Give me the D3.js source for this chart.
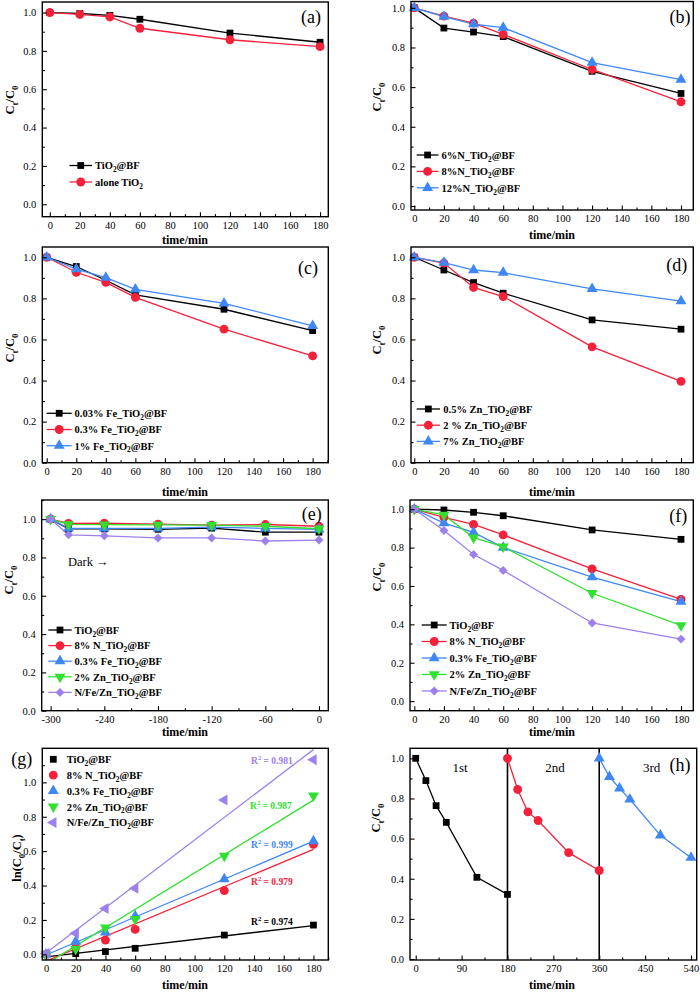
<!DOCTYPE html>
<html><head><meta charset="utf-8">
<script src="https://cdn.jsdelivr.net/npm/d3@7"></script>
<style>body{margin:0;background:#fff} svg{display:block}</style>
</head><body><svg id="c" width="700" height="992"></svg>
<script>
// ---------------- DATA ----------------
const timeStd = [0, 20, 40, 60, 120, 180];
const timeDark = [-300, -280, -240, -180, -120, -60, 0];
const xTicksStd = [0, 20, 40, 60, 80, 100, 120, 140, 160, 180];
const xTicksDark = [-300, -240, -180, -120, -60, 0];
const xTicksCycle = [0, 90, 180, 270, 360, 450, 540];
const yTicks = [0, 0.2, 0.4, 0.6, 0.8, 1.0];

// (a)
const a_TiO2BF = [1.0, 0.995, 0.985, 0.965, 0.893, 0.845];
const a_aloneTiO2 = [1.0, 0.990, 0.977, 0.918, 0.858, 0.822];
// (b)
const b_N6 = [1.0, 0.898, 0.878, 0.855, 0.680, 0.568];
const b_N8 = [1.0, 0.958, 0.923, 0.866, 0.689, 0.526];
const b_N12 = [1.0, 0.956, 0.918, 0.900, 0.724, 0.638];
// (c)
const c_Fe003 = [1.0, 0.955, 0.888, 0.817, 0.747, 0.643];
const c_Fe03 = [1.0, 0.927, 0.878, 0.805, 0.650, 0.520];
const c_Fe1 = [1.0, 0.942, 0.901, 0.844, 0.776, 0.666];
// (d)
const d_Zn05 = [1.0, 0.938, 0.877, 0.825, 0.695, 0.650];
const d_Zn2 = [1.0, 0.972, 0.853, 0.809, 0.564, 0.396];
const d_Zn7 = [1.0, 0.974, 0.938, 0.925, 0.846, 0.787];
// (e) dark adsorption
const e_TiO2BF = [1.0, 0.949, 0.949, 0.947, 0.953, 0.932, 0.932];
const e_N8 = [1.0, 0.978, 0.979, 0.974, 0.969, 0.972, 0.963];
const e_Fe03 = [1.0, 0.952, 0.952, 0.952, 0.958, 0.952, 0.947];
const e_Zn2 = [1.0, 0.973, 0.971, 0.970, 0.969, 0.963, 0.950];
const e_NFeZn = [1.0, 0.918, 0.913, 0.902, 0.902, 0.886, 0.891];
// (f)
const f_TiO2BF = [1.0, 0.996, 0.984, 0.966, 0.892, 0.843];
const f_N8 = [1.0, 0.957, 0.921, 0.866, 0.689, 0.530];
const f_Fe03 = [1.0, 0.928, 0.879, 0.800, 0.646, 0.518];
const f_Zn2 = [1.0, 0.970, 0.852, 0.805, 0.562, 0.395];
const f_NFeZn = [1.0, 0.889, 0.764, 0.681, 0.407, 0.323];
// (g) ln(C0/Ct)
const g_TiO2BF = [0.0, 0.004, 0.016, 0.035, 0.112, 0.170];
const g_N8 = [0.0, 0.040, 0.083, 0.145, 0.371, 0.640];
const g_Fe03 = [0.0, 0.074, 0.128, 0.222, 0.438, 0.659];
const g_Zn2 = [0.0, 0.031, 0.155, 0.205, 0.572, 0.922];
const g_NFeZn = [0.005, 0.122, 0.267, 0.384, 0.897, 1.132];
const g_R2 = ["0.974", "0.979", "0.999", "0.987", "0.981"];
// (h) recycling
const h_time1 = [0, 20, 40, 60, 120, 180];
const h_run1 = [1.0, 0.889, 0.764, 0.681, 0.407, 0.322];
const h_time2 = [180, 200, 220, 240, 300, 360];
const h_run2 = [1.0, 0.845, 0.733, 0.690, 0.530, 0.441];
const h_time3 = [360, 380, 400, 420, 480, 540];
const h_run3 = [1.0, 0.908, 0.850, 0.796, 0.616, 0.505];
const h_dividers = [180, 360];
const h_runLabels = ["1st", "2nd", "3rd"];

const lbl = {
  tio2bf: "TiO_{2}@BF", alone: "alone TiO_{2}",
  n6: "6%N_TiO_{2}@BF", n8b: "8%N_TiO_{2}@BF", n12: "12%N_TiO_{2}@BF",
  fe003: "0.03% Fe_TiO_{2}@BF", fe03: "0.3% Fe_TiO_{2}@BF", fe1: "1% Fe_TiO_{2}@BF",
  zn05: "0.5% Zn_TiO_{2}@BF", zn2d: "2 % Zn_TiO_{2}@BF", zn7: "7% Zn_TiO_{2}@BF",
  n8: "8% N_TiO_{2}@BF", zn2: "2% Zn_TiO_{2}@BF", nfezn: "N/Fe/Zn_TiO_{2}@BF"
};

// ---------------- STYLE ----------------
const FONT = '"Liberation Serif","Times New Roman",serif';
const COL = {k: '#000000', r: '#f5213b', b: '#3f87f5', g: '#2fe02f', p: '#9c80ec'};
const svg = d3.select('#c').attr('font-family', FONT);

function rich(t, str, fs) {
  const parts = str.split(/(_\{[^}]*\}|\^\{[^}]*\})/).filter(s => s.length);
  let shift = 0;
  parts.forEach(p => {
    const ts = t.append('tspan');
    if (p.startsWith('_{')) { const d = fs * 0.28; ts.attr('dy', d - shift).attr('font-size', fs * 0.7).text(p.slice(2, -1)); shift = d; }
    else if (p.startsWith('^{')) { const d = -fs * 0.4; ts.attr('dy', d - shift).attr('font-size', fs * 0.7).text(p.slice(2, -1)); shift = d; }
    else { ts.attr('dy', -shift).text(p); shift = 0; }
  });
}

const SYM = {square: d3.symbolSquare, circle: d3.symbolCircle, up: d3.symbolTriangle, down: d3.symbolTriangle, left: d3.symbolTriangle, diamond: d3.symbolSquare};
const ROT = {square: 0, circle: 0, up: 0, down: 180, left: -90, diamond: 45};
const SIZE = {square: 46, circle: 62, up: 52, down: 52, left: 52, diamond: 40};
function marker(g, cx, cy, sym, color) {
  g.append('path').attr('d', d3.symbol().type(SYM[sym]).size(SIZE[sym])())
    .attr('transform', `translate(${cx},${cy}) rotate(${ROT[sym]})`)
    .attr('fill', color);
}

function fit(xs, ys) {
  const mx = d3.mean(xs), my = d3.mean(ys);
  let sxy = 0, sxx = 0;
  xs.forEach((v, i) => { sxy += (v - mx) * (ys[i] - my); sxx += (v - mx) * (v - mx); });
  const k = sxy / sxx;
  return {k, b: my - k * mx};
}

function minorOf(major, step, dom) {
  const lo = Math.ceil(dom[0] / step), hi = Math.floor(dom[1] / step);
  return d3.range(lo, hi + 1).map(i => +(i * step).toFixed(6));
}

function drawPanel(p) {
  const x = d3.scaleLinear().domain(p.xd).range([p.L, p.R]);
  const y = d3.scaleLinear().domain(p.yd).range([p.B, p.T]);
  const g = svg.append('g');
  const clipId = 'clip-' + p.id;
  g.append('clipPath').attr('id', clipId).append('rect')
    .attr('x', p.L).attr('y', p.T).attr('width', p.R - p.L).attr('height', p.B - p.T);

  (p.dividers || []).forEach(v => {
    g.append('line').attr('x1', x(v)).attr('x2', x(v)).attr('y1', p.T).attr('y2', p.B)
      .attr('stroke', '#000').attr('stroke-width', 1.6);
  });

  const plot = g.append('g').attr('clip-path', `url(#${clipId})`);
  if (p.fits) {
    p.series.forEach(s => {
      const f = fit(s.x, s.y);
      const ext = d3.extent(s.x);
      plot.append('line').attr('x1', x(ext[0])).attr('y1', y(f.k * ext[0] + f.b))
        .attr('x2', x(ext[1])).attr('y2', y(f.k * ext[1] + f.b))
        .attr('stroke', s.color).attr('stroke-width', 1.3);
    });
  }

  p.series.forEach(s => {
    if (!p.noLines) {
      g.append('path').datum(s.x.map((v, i) => [v, s.y[i]]))
        .attr('d', d3.line().x(d => x(d[0])).y(d => y(d[1])))
        .attr('fill', 'none').attr('stroke', s.color).attr('stroke-width', 1.3);
    }
  });
  p.series.forEach(s => s.x.forEach((v, i) => marker(g, x(v), y(s.y[i]), s.sym, s.color)));

  // axes
  const styleAxis = a => {
    a.select('.domain').remove();
    a.selectAll('line').attr('stroke', '#000').attr('stroke-width', 1.1);
    a.selectAll('text').attr('font-family', FONT).attr('font-size', 10.5).attr('fill', '#000');
  };
  g.append('g').attr('transform', `translate(0,${p.B})`)
    .call(d3.axisBottom(x).tickValues(p.xMajor).tickSize(-4.5).tickPadding(5).tickFormat(d => String(d)))
    .call(styleAxis);
  g.append('g').attr('transform', `translate(0,${p.B})`)
    .call(d3.axisBottom(x).tickValues(minorOf(p.xMajor, p.xMinorStep, p.xd).filter(v => !p.xMajor.includes(v))).tickSize(-2.5).tickFormat(''))
    .call(styleAxis);
  g.append('g').attr('transform', `translate(${p.L},0)`)
    .call(d3.axisLeft(y).tickValues(yTicks).tickSize(-4.5).tickPadding(6).tickFormat(d3.format('.1f')))
    .call(styleAxis);
  g.append('g').attr('transform', `translate(${p.L},0)`)
    .call(d3.axisLeft(y).tickValues(minorOf(yTicks, 0.1, p.yd).filter(v => !yTicks.some(t => Math.abs(t - v) < 1e-6))).tickSize(-2.5).tickFormat(''))
    .call(styleAxis);

  g.append('rect').attr('x', p.L).attr('y', p.T).attr('width', p.R - p.L).attr('height', p.B - p.T)
    .attr('fill', 'none').attr('stroke', '#000').attr('stroke-width', 1.4);

  // axis titles
  const xt = g.append('text').attr('x', p.xlab[0]).attr('y', p.xlab[1] + 4)
    .attr('text-anchor', 'middle').attr('font-weight', 'bold').attr('font-size', 12);
  rich(xt, 'time/min', 12);
  const yt = g.append('text').attr('transform', `translate(${p.ylab[0] + 4},${p.ylab[1]}) rotate(-90)`)
    .attr('text-anchor', 'middle').attr('font-weight', 'bold').attr('font-size', 12.5);
  rich(yt, p.ytitle, 12.5);

  // panel tag
  g.append('text').attr('x', p.tag[0]).attr('y', p.tag[1] + 6).attr('text-anchor', 'middle')
    .attr('font-size', 18).text(p.tag[2]);

  // legend
  const Lg = p.legend;
  p.series.forEach((s, i) => {
    const yy = Lg.y0 + i * Lg.dy;
    if (!p.noLines) {
      g.append('line').attr('x1', Lg.x0).attr('x2', Lg.x1).attr('y1', yy).attr('y2', yy)
        .attr('stroke', s.color).attr('stroke-width', 1.3);
    }
    marker(g, (Lg.x0 + Lg.x1) / 2, yy, s.sym, s.color);
    const t = g.append('text').attr('x', Lg.tx).attr('y', yy + 3.8)
      .attr('font-weight', 'bold').attr('font-size', 10.5);
    rich(t, s.label, 10.5);
  });
  return {g, x, y};
}

const S = (x, y, color, sym, label) => ({x, y, color, sym, label});

drawPanel({id: 'a', L: 42.3, R: 328.3, T: 2, B: 216.7, xd: [-5, 185.5], yd: [-0.065, 1.055],
  xMajor: xTicksStd, xMinorStep: 10, xlab: [185, 240], ylab: [10, 100], ytitle: 'C_{t}/C_{0}', tag: [311, 17, '(a)'],
  legend: {x0: 69.5, x1: 92, tx: 95, y0: 165.5, dy: 16.5},
  series: [S(timeStd, a_TiO2BF, COL.k, 'square', lbl.tio2bf), S(timeStd, a_aloneTiO2, COL.r, 'circle', lbl.alone)]});

drawPanel({id: 'b', L: 411, R: 693.3, T: 1.5, B: 210, xd: [-2.2, 188.3], yd: [-0.02, 1.032],
  xMajor: xTicksStd, xMinorStep: 10, xlab: [552, 235], ylab: [377, 97], ytitle: 'C_{t}/C_{0}', tag: [680, 17, '(b)'],
  legend: {x0: 416.7, x1: 438.5, tx: 441.5, y0: 155, dy: 16.4},
  series: [S(timeStd, b_N6, COL.k, 'square', lbl.n6), S(timeStd, b_N8, COL.r, 'circle', lbl.n8b), S(timeStd, b_N12, COL.b, 'up', lbl.n12)]});

drawPanel({id: 'c', L: 42.3, R: 328.3, T: 247, B: 462.7, xd: [-3, 190.6], yd: [0, 1.05],
  xMajor: xTicksStd, xMinorStep: 10, xlab: [185, 492], ylab: [10, 348], ytitle: 'C_{t}/C_{0}', tag: [308, 268, '(c)'],
  legend: {x0: 46.7, x1: 71.7, tx: 74.5, y0: 413.3, dy: 16.2},
  series: [S(timeStd, c_Fe003, COL.k, 'square', lbl.fe003), S(timeStd, c_Fe03, COL.r, 'circle', lbl.fe03), S(timeStd, c_Fe1, COL.b, 'up', lbl.fe1)]});

drawPanel({id: 'd', L: 411, R: 693.3, T: 247, B: 462.7, xd: [-2.2, 188.3], yd: [0, 1.05],
  xMajor: xTicksStd, xMinorStep: 10, xlab: [552, 492], ylab: [377, 340], ytitle: 'C_{t}/C_{0}', tag: [676.7, 265, '(d)'],
  legend: {x0: 416.7, x1: 440, tx: 443.3, y0: 409, dy: 16.2},
  series: [S(timeStd, d_Zn05, COL.k, 'square', lbl.zn05), S(timeStd, d_Zn2, COL.r, 'circle', lbl.zn2d), S(timeStd, d_Zn7, COL.b, 'up', lbl.zn7)]});

const pe = drawPanel({id: 'e', L: 41.7, R: 328.3, T: 500, B: 710.7, xd: [-310, 10.4], yd: [0, 1.1],
  xMajor: xTicksDark, xMinorStep: 30, xlab: [185, 731.7], ylab: [9, 580], ytitle: 'C_{t}/C_{0}', tag: [311.7, 514.3, '(e)'],
  legend: {x0: 48.3, x1: 71.7, tx: 74.5, y0: 630, dy: 15.6},
  series: [S(timeDark, e_TiO2BF, COL.k, 'square', lbl.tio2bf), S(timeDark, e_N8, COL.r, 'circle', lbl.n8),
    S(timeDark, e_Fe03, COL.b, 'up', lbl.fe03), S(timeDark, e_Zn2, COL.g, 'down', lbl.zn2), S(timeDark, e_NFeZn, COL.p, 'diamond', lbl.nfezn)]});
pe.g.append('text').attr('x', 68).attr('y', 566).attr('font-size', 12.5).text('Dark \u2192');

drawPanel({id: 'f', L: 410, R: 693.3, T: 500, B: 710.7, xd: [-2.9, 188.3], yd: [-0.05, 1.048],
  xMajor: xTicksStd, xMinorStep: 10, xlab: [552, 731.7], ylab: [377, 577], ytitle: 'C_{t}/C_{0}', tag: [678.3, 516, '(f)'],
  legend: {x0: 421.7, x1: 446.7, tx: 449.5, y0: 625, dy: 16.5},
  series: [S(timeStd, f_TiO2BF, COL.k, 'square', lbl.tio2bf), S(timeStd, f_N8, COL.r, 'circle', lbl.n8),
    S(timeStd, f_Fe03, COL.b, 'up', lbl.fe03), S(timeStd, f_Zn2, COL.g, 'down', lbl.zn2), S(timeStd, f_NFeZn, COL.p, 'diamond', lbl.nfezn)]});

const pg = drawPanel({id: 'g', L: 42.3, R: 328.3, T: 748.3, B: 960, xd: [-2.5, 190], yd: [-0.033, 1.198],
  xMajor: xTicksStd, xMinorStep: 10, xlab: [185, 985], ylab: [17, 858], ytitle: 'ln(C_{0}/C_{t})', tag: [21.7, 759.3, '(g)'],
  noLines: true, fits: true,
  legend: {x0: 53.3, x1: 53.3, tx: 66.7, y0: 759.3, dy: 15.8},
  series: [S(timeStd, g_TiO2BF, COL.k, 'square', lbl.tio2bf), S(timeStd, g_N8, COL.r, 'circle', lbl.n8),
    S(timeStd, g_Fe03, COL.b, 'up', lbl.fe03), S(timeStd, g_Zn2, COL.g, 'down', lbl.zn2), S(timeStd, g_NFeZn, COL.p, 'left', lbl.nfezn)]});
const r2Pos = [[251, 921.7], [251, 881], [251, 844.3], [250, 805], [251, 760]];
const r2Col = [COL.k, COL.r, COL.b, COL.g, COL.p];
g_R2.forEach((v, i) => {
  const t = pg.g.append('text').attr('x', r2Pos[i][0]).attr('y', r2Pos[i][1] + 3.5)
    .attr('font-weight', 'bold').attr('font-size', 9.5).attr('fill', r2Col[i]);
  rich(t, (i === 3 ? 'R^{2}  = ' : 'R^{2} = ') + v, 9.5);
});

const ph = drawPanel({id: 'h', L: 410, R: 696.7, T: 748.3, B: 960, xd: [-11.2, 551.2], yd: [-0.005, 1.05],
  xMajor: xTicksCycle, xMinorStep: 45, xlab: [552, 985], ylab: [376, 818], ytitle: 'C_{t}/C_{0}', tag: [680, 765, '(h)'],
  dividers: h_dividers,
  legend: {x0: 0, x1: 0, tx: 0, y0: -100, dy: 0},
  series: [S(h_time1, h_run1, COL.k, 'square', ''), S(h_time2, h_run2, COL.r, 'circle', ''), S(h_time3, h_run3, COL.b, 'up', '')]});
const runLabelPos = [[460, 767.7], [555, 767.7], [651.7, 767.7]];
h_runLabels.forEach((s, i) => {
  ph.g.append('text').attr('x', runLabelPos[i][0]).attr('y', runLabelPos[i][1] + 4.5)
    .attr('text-anchor', 'middle').attr('font-size', 13).text(s);
});
</script></body></html>
